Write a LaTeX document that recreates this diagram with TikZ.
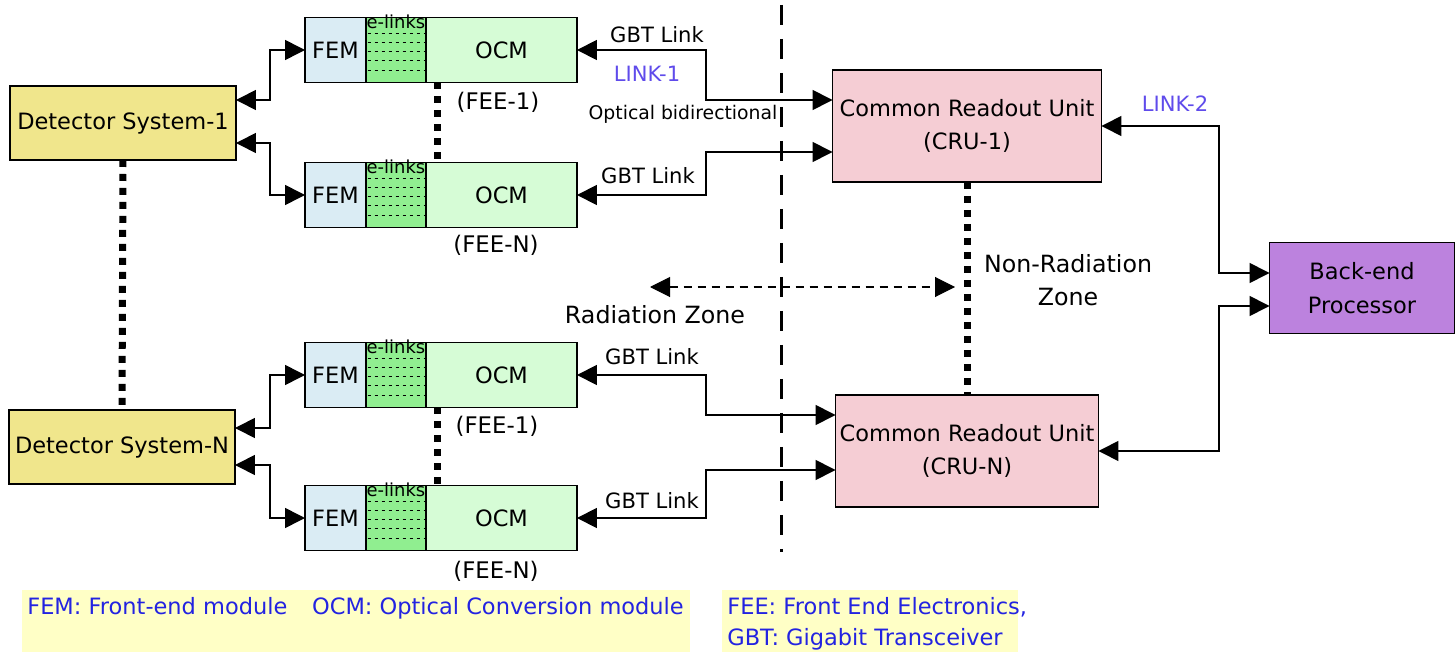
\documentclass[tikz,border=0pt]{standalone}
\usepackage{fontspec}
\setmainfont{DejaVu Sans}
\usetikzlibrary{arrows.meta,positioning}
\definecolor{detfill}{RGB}{240,230,140}
\definecolor{femfill}{RGB}{218,236,244}
\definecolor{elkfill}{RGB}{144,238,144}
\definecolor{ocmfill}{RGB}{214,252,214}
\definecolor{crufill}{RGB}{245,205,212}
\definecolor{bepfill}{RGB}{188,130,222}
\definecolor{legbg}{RGB}{255,255,198}
\definecolor{legblue}{RGB}{35,35,225}
\definecolor{linkblue}{RGB}{95,75,235}

\begin{document}
\begin{tikzpicture}[x=0.02cm, y=-0.02cm,
  box/.style={draw, line width=0.9pt, outer sep=0pt, inner sep=1pt, align=center, font=\fontsize{12.8}{19}\selectfont},
  dlink/.style={{Triangle[length=4mm,width=4mm]}-{Triangle[length=4mm,width=4mm]}, line width=0.9pt},
  lbl/.style={inner sep=1pt, font=\fontsize{12}{14}\selectfont},
  fee/.style={inner sep=1pt, font=\fontsize{13}{15}\selectfont},
  zone/.style={inner sep=1pt, align=center, font=\fontsize{13.5}{19}\selectfont},
  legend/.style={inner sep=0pt, text=legblue, align=left, font=\fontsize{12.8}{17.6}\selectfont},
  bigdots/.style={line width=0.14cm, dash pattern=on 0.14cm off 0.14cm},
  edots/.style={line width=0.6pt, dash pattern=on 0.07cm off 0.07cm},
]
  \useasboundingbox (0,0) rectangle (1455,652);

  % detector systems
  \node[box, fill=detfill, minimum width=4.52cm, minimum height=1.48cm] (ds1) at (123,123) {Detector System-1};
  \node[box, fill=detfill, minimum width=4.52cm, minimum height=1.48cm] (dsn) at (122,447) {Detector System-N};

  % front end electronics: FEM | e-links | OCM
  \foreach \n/\y in {a/50, b/195, c/375, d/518} {
    \node[box, fill=femfill, minimum width=1.22cm, minimum height=1.3cm, anchor=west] (fem\n) at (305,\y) {FEM};
    \node[box, fill=elkfill, minimum width=1.2cm, minimum height=1.3cm, right=0pt of fem\n] (elk\n) {};
    \node[box, fill=ocmfill, minimum width=3.02cm, minimum height=1.3cm, right=0pt of elk\n] (ocm\n) {OCM};
    \node[anchor=north, inner sep=0pt, font=\fontsize{10.2}{11}\selectfont] (elt\n) at ([yshift=1.5pt]elk\n.north) {e-links};
    \foreach \k in {16,25,34,43,53}
      \draw[edots] ([xshift=1pt, yshift=-\k*0.02cm]elk\n.north west) -- ([yshift=-\k*0.02cm]elk\n.north east);
  }
  \node[fee] (fee1a) at (498,102) {(FEE-1)};
  \node[fee] (feena) at (496,245) {(FEE-N)};
  \node[fee] (fee1b) at (497,426) {(FEE-1)};
  \node[fee] (feenb) at (496,571) {(FEE-N)};

  % readout units and back end
  \node[box, fill=crufill, minimum width=5.38cm, minimum height=2.24cm] (cru1) at (967,126) {Common Readout Unit\\(CRU-1)};
  \node[box, fill=crufill, minimum width=5.26cm, minimum height=2.24cm] (crun) at (967,451) {Common Readout Unit\\(CRU-N)};
  \node[box, fill=bepfill, minimum width=3.7cm, minimum height=1.82cm] (bep) at (1362,288) {Back-end\\Processor};

  % "more of the same" markers
  \draw[bigdots] (ds1.south) -- (dsn.north);
  \draw[bigdots] ([xshift=0.24cm]ocma.south west) -- ([xshift=0.24cm]ocmb.north west);
  \draw[bigdots] ([xshift=0.24cm]ocmc.south west) -- ([xshift=0.24cm]ocmd.north west);
  \draw[bigdots] (cru1.south) -- (crun.north);

  % detector <-> FEM
  \draw[dlink] (ds1.east |- 0,100) -- (270,100) |- (fema);
  \draw[dlink] (ds1.east |- 0,143) -- (270,143) |- (femb);
  \draw[dlink] (dsn.east |- 0,428) -- (270,428) |- (femc);
  \draw[dlink] (dsn.east |- 0,465) -- (270,465) |- (femd);

  % GBT links
  \draw[dlink] (ocma.east) -- (706,50) |- (cru1.west |- 0,100);
  \draw[dlink] (ocmb.east) -- (706,195) |- (cru1.west |- 0,152);
  \draw[dlink] (ocmc.east) -- (706,375) |- (crun.west |- 0,415);
  \draw[dlink] (ocmd.east) -- (706,518) |- (crun.west |- 0,470);
  \node[lbl] (gbt1) at (657,35) {GBT Link};
  \node[lbl, text=linkblue] (link1) at (647,74) {LINK-1};
  \node[inner sep=1pt, font=\fontsize{10.7}{12}\selectfont] (optbi) at (683,114) {Optical bidirectional};
  \node[lbl] (gbt2) at (648,176) {GBT Link};
  \node[lbl] (gbt3) at (652,357) {GBT Link};
  \node[lbl] (gbt4) at (652,501) {GBT Link};

  % CRU <-> back end
  \draw[dlink] (cru1.east |- 0,126) -- (1219,126) |- (bep.west |- 0,273);
  \draw[dlink] (crun.east |- 0,451) -- (1219,451) |- (bep.west |- 0,306);
  \node[lbl, text=linkblue] (link2) at (1175,104) {LINK-2};

  % zones
  \draw[line width=0.06cm, dash pattern=on 0.4cm off 0.28cm] (781,5) -- (781,552);
  \coordinate (radl) at (650,287);
  \coordinate (radr) at (955,287);
  \draw[dlink, line width=0.6pt, dash pattern=on 0.17cm off 0.11cm] (radl) -- (radr);
  \node[zone] (rad) at (655,315) {Radiation Zone};
  \node[zone] (nonrad) at (1068,280) {Non-Radiation\\Zone};

  % legend
  \fill[legbg] (22,590) rectangle (690,652);
  \fill[legbg] (722,590) rectangle (1018,652);
  \node[legend, anchor=base west] (leg1) at (27,614) {FEM: Front-end module\hspace{1.1em}OCM: Optical Conversion module};
  \node[legend, anchor=base west] (leg2) at (727,614) {FEE: Front End Electronics,};
  \node[legend, anchor=base west] (leg3) at (727,645) {GBT: Gigabit Transceiver};
\end{tikzpicture}
\end{document}
